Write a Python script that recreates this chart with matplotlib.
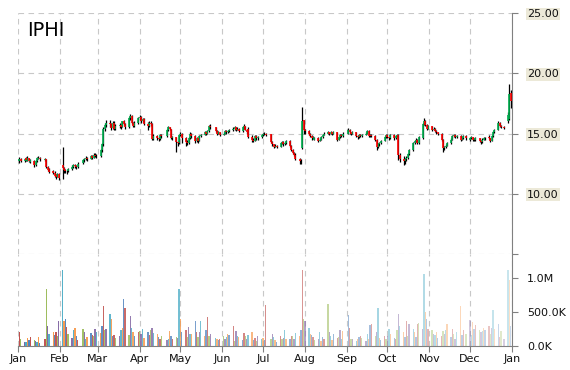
import numpy as np
import pandas as pd
import matplotlib
matplotlib.use("Agg")
import matplotlib.pyplot as plt
import matplotlib.dates as mdates

ticker = "IPHI"
holidays = ["2014-01-01", "2014-01-20", "2014-02-17", "2014-04-18", "2014-05-26",
            "2014-07-04", "2014-09-01", "2014-11-27", "2014-12-25"]

# daily prices, one line per month
opens = [
    12.70, 12.90, 12.70, 12.95, 12.75, 12.95, 12.65, 12.75, 12.40, 12.70, 12.90, 13.00, 12.80, 12.85, 12.20, 12.05, 11.85, 11.75, 11.55, 11.40, 11.65,
    12.40, 12.10, 11.95, 11.90, 11.85, 12.05, 12.25, 12.40, 12.30, 12.20, 12.55, 12.80, 12.90, 13.00, 12.90, 13.15, 13.00, 13.25, 13.15,
    13.10, 13.60, 14.10, 15.40, 15.70, 15.90, 15.80, 15.45, 15.90, 15.40, 15.65, 15.70, 15.55, 16.00, 15.80, 15.50, 16.30, 16.45, 15.85, 15.60, 15.90,
    16.25, 16.35, 16.00, 16.20, 15.80, 15.60, 15.90, 15.75, 14.55, 14.80, 14.65, 14.55, 14.90, 14.80, 15.30, 15.50, 15.35, 14.60, 14.70, 14.30, 14.20,
    14.85, 15.00, 14.60, 14.30, 14.20, 14.60, 15.00, 14.80, 14.40, 14.60, 14.40, 14.80, 14.90, 15.10, 15.00, 15.20, 15.60, 15.50, 15.20, 15.00, 15.10,
    14.90, 15.00, 15.20, 15.10, 15.20, 15.30, 15.40, 15.50, 15.30, 15.40, 15.20, 15.50, 15.60, 15.30, 15.40, 14.70, 14.50, 14.40, 14.80, 14.60, 14.70,
    14.90, 14.95, 15.00, 14.95, 14.30, 14.10, 13.90, 14.00, 13.90, 14.20, 14.30, 14.10, 14.20, 14.40, 14.00, 13.60, 13.40, 13.20, 12.90, 12.70, 13.80, 16.10,
    15.30, 15.20, 15.00, 14.80, 14.60, 14.50, 14.65, 14.40, 14.50, 14.70, 14.90, 15.00, 15.10, 15.00, 15.10, 15.00, 15.10, 14.50, 14.70, 14.90, 14.80,
    15.00, 15.30, 15.10, 15.00, 15.10, 14.80, 14.70, 14.90, 14.80, 14.90, 15.00, 15.20, 14.80, 14.90, 14.80, 14.50, 13.90, 14.10, 14.20, 14.40, 14.70,
    14.90, 14.70, 14.60, 14.90, 14.60, 14.80, 14.90, 13.20, 12.90, 12.70, 12.90, 13.00, 13.30, 13.60, 14.20, 14.40, 14.50, 14.20, 14.60, 15.80, 16.00, 15.70, 15.40,
    15.60, 15.30, 15.40, 15.20, 15.10, 15.00, 14.50, 13.80, 13.90, 14.00, 14.20, 14.50, 14.80, 14.90, 14.70, 14.80, 14.50, 14.60, 14.80,
    14.50, 14.60, 14.70, 14.50, 14.45, 14.60, 14.40, 14.30, 14.50, 14.60, 14.75, 14.60, 14.40, 14.80, 15.10, 15.30, 15.90, 15.60, 15.50, 16.00, 16.20, 18.40,
]
highs = [
    13.05, 13.00, 13.00, 13.05, 13.10, 13.00, 12.90, 12.80, 12.80, 13.05, 13.10, 13.05, 13.00, 12.90, 12.30, 12.15, 11.95, 11.85, 11.65, 11.75, 11.70,
    13.90, 12.20, 12.05, 12.00, 12.15, 12.35, 12.45, 12.45, 12.40, 12.60, 12.90, 13.00, 13.10, 13.05, 13.25, 13.20, 13.35, 13.40, 13.30,
    13.70, 14.20, 15.50, 15.90, 16.10, 16.10, 15.90, 16.00, 16.00, 15.75, 15.90, 15.80, 16.05, 16.10, 15.85, 16.40, 16.60, 16.50, 15.95, 16.00, 16.35,
    16.55, 16.45, 16.30, 16.25, 15.95, 16.00, 16.05, 15.85, 14.95, 14.90, 14.75, 15.00, 15.00, 15.40, 15.60, 15.55, 15.40, 14.80, 14.75, 14.40, 14.90,
    15.15, 15.05, 14.70, 14.45, 14.70, 15.10, 15.05, 14.85, 14.70, 14.65, 14.90, 15.00, 15.20, 15.15, 15.30, 15.70, 15.75, 15.55, 15.25, 15.20, 15.15,
    15.10, 15.30, 15.25, 15.30, 15.40, 15.50, 15.60, 15.55, 15.50, 15.45, 15.60, 15.75, 15.65, 15.35, 15.50, 14.90, 14.60, 14.90, 14.85, 14.80, 15.00,
    15.05, 15.10, 15.05, 15.00, 14.35, 14.15, 14.10, 14.05, 14.30, 14.40, 14.35, 14.30, 14.50, 14.45, 14.05, 13.70, 13.45, 13.35, 13.00, 12.85, 17.20, 16.15,
    15.40, 15.25, 15.05, 14.85, 14.80, 14.75, 14.70, 14.60, 14.80, 14.95, 15.10, 15.20, 15.15, 15.20, 15.15, 15.20, 15.15, 14.75, 14.95, 14.95, 15.10,
    15.45, 15.35, 15.15, 15.20, 15.15, 14.85, 15.00, 14.95, 15.00, 15.10, 15.30, 15.25, 15.00, 14.95, 14.85, 14.55, 14.20, 14.30, 14.50, 14.80, 15.00,
    14.95, 14.75, 15.00, 14.95, 14.90, 15.00, 14.95, 13.40, 13.10, 13.00, 13.10, 13.40, 13.70, 14.30, 14.50, 14.65, 14.55, 14.80, 15.90, 16.30, 16.10, 15.75, 15.70,
    15.65, 15.50, 15.45, 15.25, 15.15, 15.05, 14.55, 14.00, 14.10, 14.30, 14.60, 14.90, 14.95, 14.95, 14.90, 14.85, 14.70, 14.90, 14.85,
    14.70, 14.80, 14.75, 14.60, 14.70, 14.65, 14.45, 14.60, 14.70, 14.75, 14.90, 14.65, 14.85, 15.20, 15.35, 16.05, 15.95, 15.70, 15.60, 16.80, 19.10, 18.60,
]
lows = [
    12.55, 12.60, 12.65, 12.70, 12.70, 12.60, 12.55, 12.20, 12.30, 12.65, 12.85, 12.75, 12.70, 12.10, 11.85, 11.70, 11.60, 11.40, 11.25, 11.35, 11.10,
    11.20, 11.75, 11.70, 11.65, 11.80, 12.00, 12.15, 12.15, 12.05, 12.15, 12.50, 12.65, 12.80, 12.75, 12.85, 12.90, 12.95, 13.05, 12.95,
    13.05, 13.50, 14.00, 15.20, 15.50, 15.50, 15.30, 15.40, 15.30, 15.30, 15.45, 15.40, 15.50, 15.70, 15.40, 15.45, 16.15, 15.75, 15.50, 15.55, 15.80,
    16.10, 15.90, 15.95, 15.70, 15.30, 15.55, 15.60, 14.45, 14.45, 14.45, 14.40, 14.50, 14.65, 14.75, 15.20, 15.25, 14.55, 14.45, 13.50, 14.00, 14.15,
    14.80, 14.20, 14.00, 14.05, 14.15, 14.55, 14.65, 14.20, 14.30, 14.25, 14.35, 14.70, 14.85, 14.90, 14.95, 15.10, 15.40, 15.10, 14.90, 14.95, 14.80,
    14.85, 14.95, 14.95, 15.05, 15.10, 15.20, 15.30, 15.20, 15.25, 15.10, 15.15, 15.40, 15.25, 15.00, 14.60, 14.30, 14.30, 14.35, 14.50, 14.50, 14.65,
    14.80, 14.85, 14.80, 14.25, 13.95, 13.80, 13.85, 13.80, 13.85, 14.10, 14.00, 14.05, 14.15, 13.90, 13.55, 13.30, 13.10, 12.80, 12.50, 12.45, 13.70, 15.00,
    14.95, 14.85, 14.70, 14.50, 14.55, 14.45, 14.30, 14.35, 14.45, 14.65, 14.85, 14.95, 14.90, 14.95, 14.90, 14.95, 14.40, 14.45, 14.65, 14.70, 14.75,
    14.95, 15.00, 14.90, 14.95, 14.70, 14.55, 14.65, 14.70, 14.75, 14.85, 14.95, 14.75, 14.75, 14.70, 14.40, 13.60, 13.80, 14.00, 14.10, 14.35, 14.60,
    14.60, 14.45, 14.55, 14.50, 14.55, 14.75, 12.80, 12.60, 12.40, 12.50, 12.70, 12.90, 13.20, 13.55, 14.10, 14.30, 14.10, 14.15, 14.55, 15.70, 15.60, 15.30, 15.35,
    15.20, 15.25, 15.10, 15.00, 14.90, 14.40, 13.50, 13.60, 13.80, 13.95, 14.15, 14.45, 14.70, 14.60, 14.65, 14.40, 14.45, 14.55, 14.50,
    14.35, 14.55, 14.40, 14.35, 14.40, 14.30, 14.15, 14.25, 14.45, 14.50, 14.55, 14.30, 14.35, 14.75, 15.05, 15.25, 15.55, 15.45, 15.35, 15.90, 16.10, 17.10,
]
closes = [
    12.85, 12.75, 12.90, 12.80, 12.95, 12.70, 12.80, 12.35, 12.70, 12.95, 13.00, 12.85, 12.90, 12.20, 12.00, 11.80, 11.70, 11.50, 11.40, 11.60, 11.30,
    12.10, 11.95, 11.90, 11.85, 12.05, 12.25, 12.40, 12.30, 12.20, 12.50, 12.80, 12.90, 13.00, 12.85, 13.15, 13.00, 13.25, 13.15, 13.10,
    13.60, 14.10, 15.40, 15.70, 15.90, 15.80, 15.45, 15.90, 15.40, 15.65, 15.70, 15.55, 16.00, 15.80, 15.50, 16.30, 16.45, 15.85, 15.60, 15.90, 16.25,
    16.35, 16.00, 16.20, 15.80, 15.60, 15.90, 15.75, 14.55, 14.80, 14.65, 14.55, 14.90, 14.80, 15.30, 15.50, 15.40, 14.60, 14.70, 14.30, 14.20, 14.85,
    15.00, 14.60, 14.30, 14.20, 14.60, 15.00, 14.80, 14.40, 14.60, 14.40, 14.80, 14.90, 15.10, 15.00, 15.20, 15.60, 15.50, 15.20, 15.00, 15.10, 14.90,
    15.00, 15.20, 15.10, 15.20, 15.30, 15.40, 15.50, 15.30, 15.40, 15.20, 15.50, 15.60, 15.30, 15.10, 14.70, 14.50, 14.40, 14.80, 14.60, 14.70, 14.90,
    14.95, 15.00, 14.90, 14.30, 14.10, 13.90, 14.00, 13.90, 14.20, 14.30, 14.10, 14.20, 14.40, 14.00, 13.60, 13.40, 13.20, 12.90, 12.70, 12.75, 16.00, 15.30,
    15.20, 15.00, 14.80, 14.60, 14.70, 14.65, 14.40, 14.50, 14.70, 14.90, 15.00, 15.10, 15.00, 15.10, 15.00, 15.10, 14.50, 14.70, 14.90, 14.80, 15.00,
    15.30, 15.10, 15.00, 15.10, 14.80, 14.70, 14.90, 14.80, 14.90, 15.00, 15.20, 14.80, 14.90, 14.80, 14.50, 13.90, 14.10, 14.20, 14.40, 14.70, 14.90,
    14.70, 14.60, 14.90, 14.60, 14.80, 14.90, 13.20, 12.90, 12.70, 12.90, 13.00, 13.30, 13.60, 14.20, 14.40, 14.50, 14.20, 14.70, 15.80, 16.00, 15.70, 15.40, 15.60,
    15.30, 15.40, 15.20, 15.10, 15.00, 14.50, 13.80, 13.90, 14.00, 14.20, 14.50, 14.80, 14.90, 14.70, 14.80, 14.50, 14.60, 14.80, 14.60,
    14.60, 14.70, 14.50, 14.45, 14.60, 14.40, 14.30, 14.50, 14.60, 14.65, 14.60, 14.40, 14.80, 15.10, 15.30, 15.90, 15.60, 15.50, 15.45, 16.50, 18.30, 17.70,
]
# volume in thousands of shares
volumes_k = [
    200, 110, 60, 55, 120, 85, 130, 90, 75, 60, 130, 40, 110, 830, 290, 170, 200, 160, 210, 140, 360,
    1110, 370, 400, 280, 180, 120, 230, 270, 140, 90, 250, 200, 110, 130, 190, 160, 140, 250, 210,
    190, 300, 590, 230, 250, 470, 400, 140, 160, 120, 140, 240, 260, 690, 560, 160, 440, 270, 210, 150, 200,
    220, 170, 250, 120, 200, 160, 230, 270, 190, 170, 130, 110, 150, 90, 110, 220, 150, 100, 130, 120, 830,
    400, 210, 230, 130, 280, 180, 170, 370, 210, 130, 200, 370, 150, 230, 430, 140, 180, 120, 110, 90, 100,
    140, 100, 130, 170, 160, 300, 80, 220, 140, 130, 90, 190, 150, 110, 160, 200, 90, 120, 80, 140, 100,
    120, 90, 600, 110, 170, 130, 90, 60, 140, 100, 120, 230, 100, 110, 140, 150, 110, 190, 140, 240, 1110, 400,
    360, 260, 180, 160, 130, 90, 110, 200, 80, 130, 100, 620, 200, 150, 90, 170, 120, 130, 240, 110, 220,
    450, 260, 110, 100, 80, 110, 130, 150, 120, 80, 170, 100, 310, 330, 140, 210, 560, 120, 90, 140, 100,
    140, 250, 180, 120, 100, 240, 470, 300, 210, 130, 360, 140, 320, 250, 200, 130, 330, 340, 250, 1050, 500, 400, 250,
    230, 180, 160, 200, 120, 150, 220, 180, 240, 330, 130, 250, 180, 110, 200, 580, 160, 240, 170,
    380, 160, 350, 250, 310, 240, 200, 220, 260, 230, 290, 170, 260, 530, 250, 330, 130, 220, 110, 1110, 970, 300,
]
price_ticks = [5, 10, 15, 20, 25]
volume_ticks = [0, 500e3, 1e6]
volume_labels = ["0.0K", "500.0K", "1.0M"]

bar_palette = ["#4F81BD", "#C0504D", "#9BBB59", "#8064A2", "#4BACC6", "#F79646"]
grid_kw = dict(color="#C8C8C8", linewidth=0.8, linestyle=(0, (5, 4)))
axis_grey = "#808080"


def style_axis(ax):
    for side in ["left", "top", "bottom"]:
        ax.spines[side].set_visible(False)
    ax.spines["right"].set_color(axis_grey)
    ax.yaxis.tick_right()
    ax.tick_params(axis="y", colors=axis_grey, labelcolor="#111111",
                   length=4, pad=7, labelsize=8)
    ax.xaxis.set_major_locator(mdates.MonthLocator())
    ax.grid(True, axis="x", **grid_kw)
    ax.set_xlim(mdates.date2num(pd.Timestamp("2014-01-01")),
                mdates.date2num(pd.Timestamp("2015-01-01")))


def main():
    dates = pd.bdate_range("2014-01-01", "2014-12-31", freq="C", holidays=holidays)
    x = mdates.date2num(dates.to_pydatetime())
    o = np.array(opens)
    h = np.array(highs)
    l = np.array(lows)
    c = np.array(closes)
    vol = np.array(volumes_k) * 1e3

    fig = plt.figure(figsize=(5.7, 3.7), dpi=100)
    ax = fig.add_axes([18 / 570, 1 - 254 / 370, 494 / 570, 241 / 370])
    axv = fig.add_axes([18 / 570, 1 - 346 / 370, 494 / 570, 92 / 370], sharex=ax)

    # price pane
    style_axis(ax)
    ax.set_ylim(5, 25)
    ax.set_yticks(price_ticks)
    ax.set_yticklabels([""] + [f"{t:.2f}" for t in price_ticks[1:]])
    for lab in ax.get_yticklabels():
        lab.set_bbox(dict(facecolor="#ECE9D8", edgecolor="none", pad=1.0))
    ax.grid(True, axis="y", **grid_kw)
    ax.tick_params(axis="x", length=0, labelbottom=False)

    up = c >= o
    ax.vlines(x, l, h, color="black", linewidth=0.9, zorder=3)
    ax.vlines(x[up], o[up], c[up], color="#00B050", linewidth=1.2, zorder=4)
    ax.vlines(x[~up], o[~up], c[~up], color="#FF0000", linewidth=1.2, zorder=4)

    fig.text(27 / 570, 1 - 30 / 370, ticker, fontsize=14, va="center", ha="left")

    # volume pane
    style_axis(axv)
    axv.spines["bottom"].set_visible(True)
    axv.spines["bottom"].set_color(axis_grey)
    axv.set_ylim(0, 1.35e6)
    axv.set_yticks(volume_ticks)
    axv.set_yticklabels(volume_labels)
    axv.xaxis.set_major_formatter(mdates.DateFormatter("%b"))
    axv.tick_params(axis="x", colors=axis_grey, labelcolor="#111111",
                    length=4, pad=2, labelsize=8)

    n = len(x)
    colors = []
    for i in range(n):
        rgba = list(matplotlib.colors.to_rgba(bar_palette[(i + 1) % len(bar_palette)]))
        rgba[3] = 1.0 - 0.7 * i / (n - 1)
        colors.append(tuple(rgba))
    axv.bar(x, vol, width=1.0, color=colors, linewidth=0, zorder=3)

    fig.savefig("out.png", dpi=100)


if __name__ == "__main__":
    main()
